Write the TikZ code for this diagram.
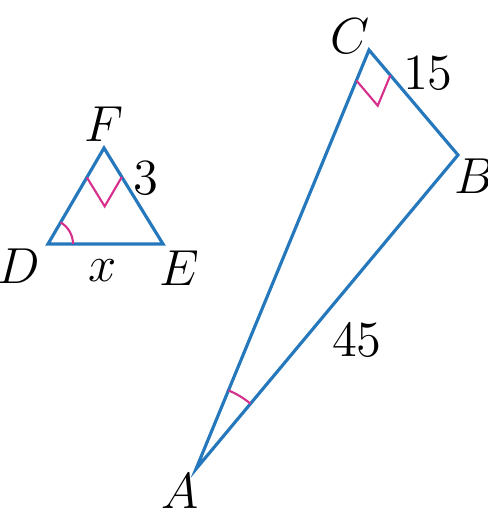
\documentclass[tikz,border=0pt]{standalone}
\usepackage{amsmath}
\usepackage{tikz}
\usetikzlibrary{angles, calc}
\definecolor{side}{RGB}{38,120,188}
\definecolor{mark}{RGB}{214,48,140}

\begin{document}
\begin{tikzpicture}[x=0.01cm, y=-0.01cm,
    tri/.style={side, line width=0.9pt, line join=miter},
    mk/.style={draw=mark, line width=0.6pt},
    lbl/.style={inner sep=0pt, font=\Large}]
  \useasboundingbox (0,0) rectangle (488,518);
  % small triangle DEF
  \coordinate (D) at (48,244);
  \coordinate (E) at (163,244);
  \coordinate (F) at (104,148);
  \draw[tri] (D)--(E)--(F)--cycle;
  \pic[mk, angle radius=0.34cm] {right angle = D--F--E};
  \pic[mk, angle radius=0.25cm] {angle = E--D--F};
  \node[lbl] (lF) at (104,124) {$F$};
  \node[lbl] (lD) at (19,266) {$D$};
  \node[lbl] (lE) at (179,268) {$E$};
  \node[lbl] (lx) at (103,271) {$x$};
  \node[lbl] (l3) at (146,178) {$3$};
  % large triangle ABC
  \coordinate (A) at (196,469);
  \coordinate (B) at (458,155);
  \coordinate (C) at (369,50);
  \draw[tri] (A)--(B)--(C)--cycle;
  \pic[mk, angle radius=0.33cm] {right angle = A--C--B};
  \pic[mk, angle radius=0.85cm] {angle = B--A--C};
  \node[lbl] (lC) at (350,36) {$C$};
  \node[lbl] (lB) at (475,176) {$B$};
  \node[lbl] (lA) at (180,491) {$A$};
  \node[lbl] (l15) at (428,73) {$15$};
  \node[lbl] (l45) at (357,340) {$45$};
\end{tikzpicture}
\end{document}
